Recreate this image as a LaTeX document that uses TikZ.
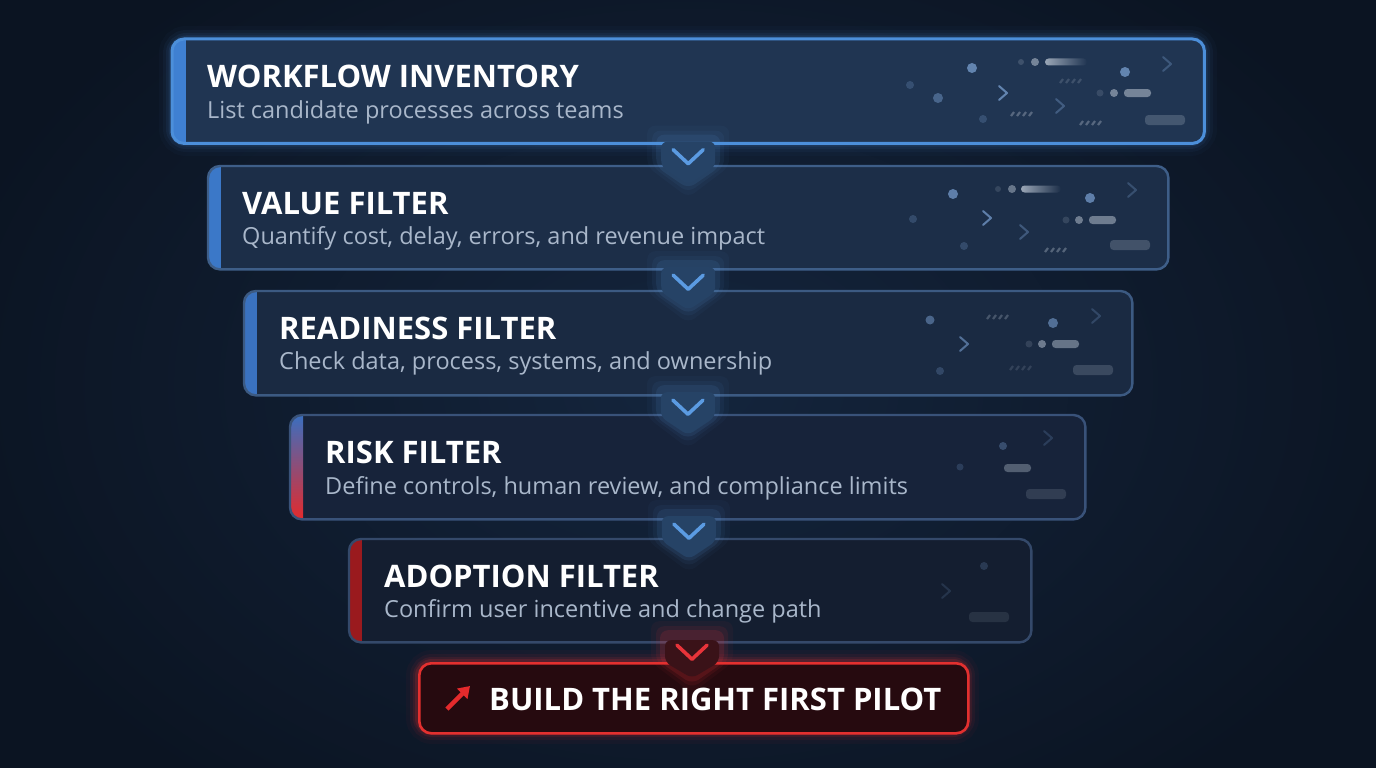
\documentclass[tikz,border=0pt]{standalone}
\usepackage{fontspec}
\setmainfont{Open Sans}
\usetikzlibrary{calc,arrows.meta}
\definecolor{bgin}{HTML}{14253D}
\definecolor{bgout}{HTML}{0B1422}
\definecolor{fillA}{HTML}{203552}
\definecolor{fillB}{HTML}{1C2E48}
\definecolor{fillC}{HTML}{1A2A42}
\definecolor{fillD}{HTML}{17233A}
\definecolor{fillE}{HTML}{141E30}
\definecolor{bordA}{HTML}{4C8FDA}
\definecolor{bordB}{HTML}{3E5E88}
\definecolor{bordC}{HTML}{3C5A82}
\definecolor{bordD}{HTML}{395279}
\definecolor{bordE}{HTML}{34496A}
\definecolor{accA}{HTML}{3F80D2}
\definecolor{accB}{HTML}{3B78C8}
\definecolor{accC}{HTML}{3A72C0}
\definecolor{accBlue}{HTML}{3A6FC0}
\definecolor{accRed}{HTML}{E42A2C}
\definecolor{accE}{HTML}{9A1A1E}
\definecolor{subtxt}{HTML}{A9B7CA}
\definecolor{chevblue}{HTML}{5B9BE2}
\definecolor{shieldblue}{HTML}{264366}
\definecolor{shieldred}{HTML}{3A1218}
\definecolor{chevred}{HTML}{E8343A}
\definecolor{btnfill}{HTML}{260A0F}
\definecolor{btnborder}{HTML}{E3302F}
\definecolor{decor}{HTML}{6A8DBA}
\definecolor{decgrey}{HTML}{9AA6B6}
\tikzset{
  stagebox/.style={rectangle, rounded corners=12pt, inner sep=0pt, anchor=north west},
  stageborder/.style={rounded corners=12pt, line width=2.4pt},
  titletxt/.style={anchor=base west, inner sep=0pt, text=white, font=\fontsize{31}{36}\selectfont\bfseries},
  subtitletxt/.style={anchor=base west, inner sep=0pt, text=subtxt, font=\fontsize{23.5}{28}\selectfont},
  shieldpic/.pic={
    \foreach \g/\o in {14/0.04,9/0.06,5/0.10}{
      \fill[chevblue, opacity=\o, rounded corners=8pt] (-27-\g,-17-\g) -- (27+\g,-17-\g) -- (27+\g,10) -- (0,27+\g) -- (-27-\g,10) -- cycle;}
    \fill[shieldblue, rounded corners=6pt] (-27,-15) -- (27,-15) -- (27,10) -- (0,28) -- (-27,10) -- cycle;
    \draw[chevblue, line width=3.6pt, line cap=round, line join=round] (-15,-7) -- (0,7) -- (15,-7);
  },
  shieldredpic/.pic={
    \foreach \g/\o in {14/0.05,9/0.09,5/0.14}{
      \fill[chevred, opacity=\o, rounded corners=8pt] (-27-\g,-17-\g) -- (27+\g,-17-\g) -- (27+\g,10) -- (0,27+\g) -- (-27-\g,10) -- cycle;}
    \fill[shieldred, rounded corners=6pt] (-27,-12) -- (27,-12) -- (27,10) -- (0,26) -- (-27,10) -- cycle;
    \draw[chevred, line width=3.6pt, line cap=round, line join=round] (-15,-7) -- (0,7) -- (15,-7);
  }
}
\newcommand\bdot[4]{\fill[decor, opacity=#4] (#1,#2) circle (#3pt);}
\newcommand\gdot[4]{\fill[decgrey, opacity=#4] (#1,#2) circle (#3pt);}
\newcommand\dbar[5]{\fill[decgrey, opacity=#5, rounded corners=3.5pt] (#1,#2-#4/2) rectangle (#3,#2+#4/2);}
\newcommand\dchev[3]{\draw[decor, opacity=#3, line width=2pt, line cap=round, line join=round] (#1-4,#2-7) -- (#1+4,#2) -- (#1-4,#2+7);}
\newcommand\dhatch[3]{\foreach \i in {0,...,3}{\draw[decgrey, opacity=#3, line width=2.2pt] (#1+\i*6,#2+2) -- (#1+\i*6+3,#2-2);}}
\begin{document}
\begin{tikzpicture}[x=1pt,y=-1pt]
\useasboundingbox (0,0) rectangle (1376,768);
\begin{scope}
\clip (0,0) rectangle (1376,768);
\fill[bgout] (0,0) rectangle (1376,768);
\shade[inner color=bgin, outer color=bgout] (688,384) ellipse (760pt and 520pt);
\end{scope}

% ---------- glow of first box ----------
\foreach \w/\o in {26/0.03,18/0.05,12/0.08,7/0.12}{
  \draw[bordA, line width=\w pt, opacity=\o, rounded corners=14pt] (172,39) rectangle (1204,143);}

% ---------- stage 1 ----------
\node[stagebox, fill=fillA, minimum width=1032pt, minimum height=104pt] (s1) at (172,39) {};
\begin{scope}
\clip[rounded corners=12pt] (s1.north west) rectangle (s1.south east);
\fill[accA] (s1.north west) rectangle ($(s1.south west)+(14,0)$);
\end{scope}
\draw[stageborder, bordA, line width=3pt] (s1.north west) rectangle (s1.south east);

% ---------- stage 2 ----------
\node[stagebox, fill=fillB, minimum width=960pt, minimum height=103pt] (s2) at (208,166) {};
\begin{scope}
\clip[rounded corners=12pt] (s2.north west) rectangle (s2.south east);
\fill[accB] (s2.north west) rectangle ($(s2.south west)+(13,0)$);
\end{scope}
\draw[stageborder, bordB] (s2.north west) rectangle (s2.south east);

% ---------- stage 3 ----------
\node[stagebox, fill=fillC, minimum width=888pt, minimum height=104pt] (s3) at (244,291) {};
\begin{scope}
\clip[rounded corners=12pt] (s3.north west) rectangle (s3.south east);
\fill[accC] (s3.north west) rectangle ($(s3.south west)+(13,0)$);
\end{scope}
\draw[stageborder, bordC] (s3.north west) rectangle (s3.south east);

% ---------- stage 4 ----------
\node[stagebox, fill=fillD, minimum width=795pt, minimum height=104pt] (s4) at (290,415) {};
\begin{scope}
\clip[rounded corners=12pt] (s4.north west) rectangle (s4.south east);
\shade[top color=accBlue, bottom color=accRed] (s4.north west) rectangle ($(s4.south west)+(13,0)$);
\end{scope}
\draw[stageborder, bordD] (s4.north west) rectangle (s4.south east);

% ---------- stage 5 ----------
\node[stagebox, fill=fillE, minimum width=682pt, minimum height=103pt] (s5) at (349,539) {};
\begin{scope}
\clip[rounded corners=12pt] (s5.north west) rectangle (s5.south east);
\fill[accE] (s5.north west) rectangle ($(s5.south west)+(13,0)$);
\end{scope}
\draw[stageborder, bordE] (s5.north west) rectangle (s5.south east);

% ---------- final button ----------
\foreach \w/\o in {24/0.04,16/0.07,10/0.11,6/0.16}{
  \draw[btnborder, line width=\w pt, opacity=\o, rounded corners=14pt] (418,662) rectangle (967,732);}
\node[stagebox, fill=btnfill, draw=btnborder, line width=2.6pt, minimum width=549pt, minimum height=70pt] (btn) at (418,662) {};

% ---------- texts ----------
\node[titletxt] (t1) at (207,88) {WORKFLOW INVENTORY};
\node[subtitletxt] (u1) at (207,118) {List candidate processes across teams};
\node[titletxt] (t2) at (242,214) {VALUE FILTER};
\node[subtitletxt] (u2) at (242,244) {Quantify cost, delay, errors, and revenue impact};
\node[titletxt] (t3) at (279,339) {READINESS FILTER};
\node[subtitletxt] (u3) at (279,369) {Check data, process, systems, and ownership};
\node[titletxt] (t4) at (325,463) {RISK FILTER};
\node[subtitletxt] (u4) at (325,494) {Define controls, human review, and compliance limits};
\node[titletxt] (t5) at (384,587) {ADOPTION FILTER};
\node[subtitletxt] (u5) at (384,617) {Confirm user incentive and change path};
\node[titletxt, font=\fontsize{31}{36}\selectfont\bfseries] (bt) at (489,710) {BUILD THE RIGHT FIRST PILOT};
\coordinate (arrtail) at (447,709);
\coordinate (arrhead) at (470,686);
\draw[accRed, line width=4.5pt, -{Triangle[length=11pt,width=14pt]}] (arrtail) -- (arrhead);

% ---------- connectors (chevron shields) ----------
\pic at ($(s1.south)!0.5!(s2.north)+(0,2)$) {shieldpic};
\pic at ($(s2.south)!0.5!(s3.north)+(0,2)$) {shieldpic};
\pic at ($(s3.south)!0.5!(s4.north)+(0,2)$) {shieldpic};
\pic at ($(s4.south)!0.5!(s5.north)+(0,2)$) {shieldpic};
\pic at ($(s5.south)!0.5!(btn.north)+(0,0)$) {shieldredpic};

% ---------- decorations box 1 ----------
\bdot{972}{68}{5}{0.9}
\bdot{910}{85}{4}{0.3}
\bdot{938}{98}{5}{0.55}
\bdot{983}{119}{4}{0.3}
\gdot{1021}{62}{3}{0.25}
\gdot{1035}{62}{4}{0.7}
\shade[left color=decgrey, right color=fillA, rounded corners=3.5pt] (1045,58.5) rectangle (1087,65.5);
\dhatch{1060}{81}{0.25}
\dhatch{1011}{114}{0.45}
\dhatch{1080}{123}{0.45}
\dchev{1003}{93}{0.9}
\dchev{1060}{106}{0.45}
\dchev{1167}{64}{0.4}
\bdot{1125}{72}{5}{0.9}
\gdot{1100}{93}{3.5}{0.2}
\gdot{1114}{93}{4}{0.7}
\dbar{1124}{93}{1151}{8}{0.7}
\dbar{1145}{120}{1185}{10}{0.3}

% ---------- decorations box 2 ----------
\bdot{953}{194}{5}{0.85}
\bdot{913}{219}{4}{0.3}
\dchev{987}{218}{0.85}
\bdot{964}{246}{4}{0.3}
\gdot{998}{189}{3}{0.2}
\gdot{1012}{189}{4}{0.6}
\shade[left color=decgrey, right color=fillB, rounded corners=3.5pt] (1021,185.5) rectangle (1061,192.5);
\dchev{1024}{232}{0.45}
\bdot{1090}{198}{5}{0.85}
\gdot{1066}{220}{3.5}{0.2}
\gdot{1079}{220}{4}{0.65}
\dbar{1089}{220}{1116}{8}{0.65}
\dhatch{1045}{250}{0.45}
\dbar{1110}{245}{1150}{10}{0.3}
\dchev{1132}{190}{0.35}

% ---------- decorations box 3 ----------
\bdot{930}{320}{4.5}{0.6}
\dhatch{987}{317}{0.35}
\bdot{1053}{323}{5}{0.7}
\dchev{964}{344}{0.7}
\gdot{1029}{344}{3.5}{0.2}
\gdot{1042}{344}{4}{0.65}
\dbar{1052}{344}{1079}{8}{0.6}
\bdot{940}{371}{4}{0.3}
\dhatch{1010}{368}{0.2}
\dbar{1073}{370}{1113}{10}{0.25}
\dchev{1096}{316}{0.3}

% ---------- decorations box 4 ----------
\dchev{1048}{438}{0.25}
\bdot{1003}{446}{4}{0.4}
\bdot{960}{467}{3.5}{0.25}
\dbar{1004}{468}{1031}{8}{0.45}
\dbar{1026}{494}{1066}{10}{0.2}

% ---------- decorations box 5 ----------
\bdot{984}{566}{4}{0.25}
\dchev{946}{591}{0.2}
\dbar{969}{617}{1009}{10}{0.15}
\end{tikzpicture}
\end{document}
